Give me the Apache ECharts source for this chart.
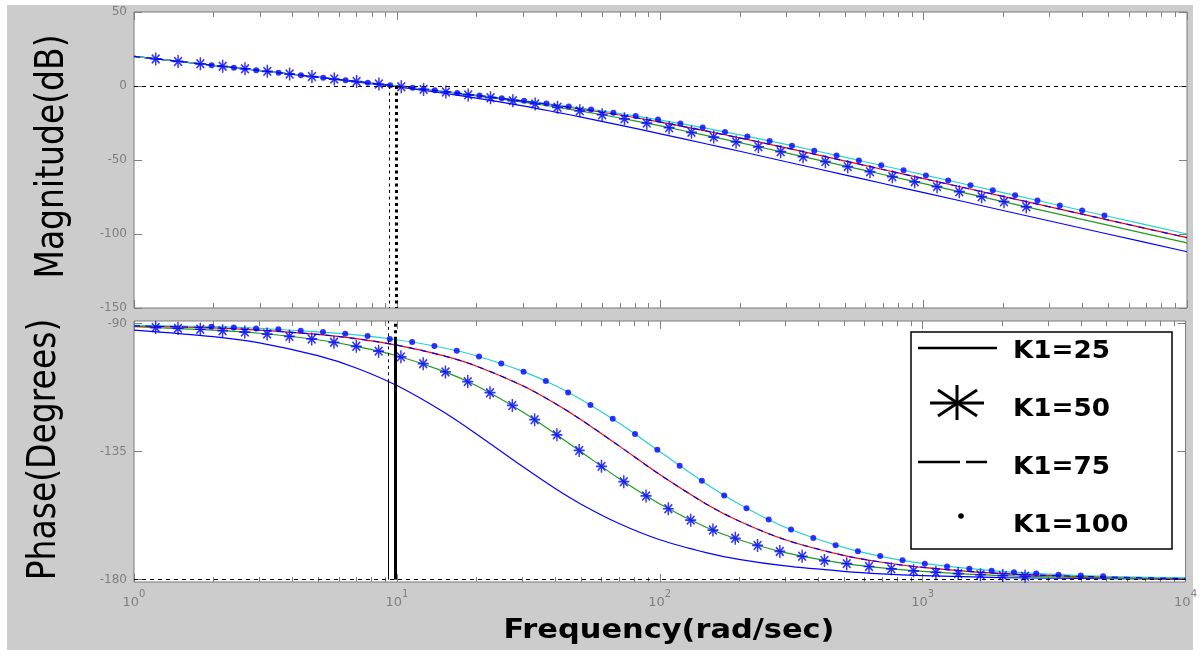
<!DOCTYPE html>
<html>
<head>
<meta charset="utf-8">
<title>Bode</title>
<script src="https://cdn.jsdelivr.net/npm/echarts@6/dist/echarts.min.js"></script>
<style>
html, body { margin: 0; padding: 0; background: #fff; }
#bode { width: 1200px; height: 650px; }
</style>
</head>
<body>
<div id="bode"></div>
<script>
// frequencies for the four curves (rad/sec)
var lineFreq = [1, 2, 3, 5, 7, 10, 15, 20, 30, 40, 50, 70, 100, 150, 200, 300, 500, 700, 1000, 2000, 5000, 10000];

// magnitude (dB)
var k25Mag = [20.0, 14.0, 10.4, 5.9, 2.8, -0.6, -4.9, -8.2, -13.4, -17.6, -21.0, -26.4, -32.3, -39.2, -44.1, -51.2, -60.0, -65.9, -72.0, -84.1, -100.0, -112.0];
var k50Mag = [20.0, 14.0, 10.4, 6.0, 3.0, -0.2, -3.9, -6.7, -10.9, -14.2, -17.0, -21.6, -27.0, -33.5, -38.3, -45.2, -54.0, -59.8, -66.0, -78.1, -94.0, -106.0];
var k75Mag = [20.0, 14.0, 10.5, 6.0, 3.1, -0.1, -3.7, -6.3, -10.2, -13.1, -15.6, -19.6, -24.4, -30.5, -35.1, -41.8, -50.6, -56.4, -62.6, -74.6, -90.5, -102.5];
var k100Mag = [20.0, 14.0, 10.5, 6.0, 3.1, 0.0, -3.6, -6.2, -9.9, -12.7, -15.0, -18.6, -23.0, -28.6, -33.0, -39.5, -48.1, -53.9, -60.0, -72.1, -88.0, -100.0];

// phase (deg)
var k25Phase = [-92.3, -94.6, -96.8, -101.3, -105.6, -111.8, -121.0, -128.7, -140.2, -148.0, -153.4, -160.3, -166.0, -170.5, -172.9, -175.2, -177.1, -178.0, -178.6, -179.3, -179.7, -179.9];
var k50Phase = [-91.1, -92.3, -93.4, -95.7, -98.0, -101.3, -106.7, -111.8, -121.0, -128.7, -135.0, -144.5, -153.4, -161.6, -166.0, -170.5, -174.3, -175.9, -177.1, -178.6, -179.4, -179.7];
var k75Phase = [-90.8, -91.5, -92.3, -93.8, -95.3, -97.6, -101.3, -104.9, -111.8, -118.1, -123.7, -133.0, -143.1, -153.4, -159.4, -166.0, -171.5, -173.9, -175.7, -177.9, -179.1, -179.6];
var k100Phase = [-90.6, -91.1, -91.7, -92.9, -94.0, -95.7, -98.5, -101.3, -106.7, -111.8, -116.6, -125.0, -135.0, -146.3, -153.4, -161.6, -168.7, -171.9, -174.3, -177.1, -178.9, -179.4];

// asterisk markers (K1=50)
var astFreq = [1.209, 1.470, 1.787, 2.172, 2.640, 3.209, 3.901, 4.742, 5.765, 7.008, 8.519, 10.36, 12.59, 15.30, 18.60, 22.61, 27.49, 33.41, 40.62, 49.37, 60.02, 72.96, 88.69, 107.8, 131.1, 159.3, 193.7, 235.5, 286.2, 348.0, 423.0, 514.2, 625.0, 759.8, 923.6, 1123, 1365, 1659, 2017, 2452];
var astMag = [18.3, 16.6, 15.0, 13.3, 11.6, 9.9, 8.1, 6.4, 4.7, 3.0, 1.3, -0.5, -2.3, -4.1, -6.0, -7.9, -9.9, -12.1, -14.4, -16.8, -19.4, -22.2, -25.1, -28.2, -31.3, -34.5, -37.8, -41.1, -44.4, -47.8, -51.1, -54.5, -57.9, -61.3, -64.7, -68.0, -71.4, -74.8, -78.2, -81.6];
var astPhase = [-91.4, -91.7, -92.0, -92.5, -93.0, -93.7, -94.5, -95.4, -96.6, -98.0, -99.7, -101.7, -104.1, -107.0, -110.4, -114.3, -118.8, -123.8, -129.1, -134.6, -140.2, -145.6, -150.6, -155.1, -159.1, -162.6, -165.5, -168.0, -170.1, -171.8, -173.3, -174.4, -175.4, -176.2, -176.9, -177.5, -177.9, -178.3, -178.6, -178.8];

// dot markers (K1=100)
var dotFreq = [1.972, 2.397, 2.914, 3.542, 4.306, 5.234, 6.362, 7.734, 9.401, 11.43, 13.89, 16.89, 20.53, 24.95, 30.33, 36.87, 44.82, 54.48, 66.23, 80.51, 97.87, 119.0, 144.6, 175.8, 213.7, 259.7, 315.7, 383.8, 466.5, 567.1, 689.4, 838.0, 1019, 1238, 1505, 1830, 2224, 2704, 3287, 3996, 4857];
var dotMag = [14.1, 12.4, 10.7, 9.0, 7.3, 5.6, 3.9, 2.2, 0.5, -1.2, -2.9, -4.7, -6.4, -8.2, -10.0, -11.9, -13.8, -15.9, -18.0, -20.3, -22.7, -25.3, -28.1, -31.0, -34.1, -37.2, -40.4, -43.7, -47.0, -50.3, -53.6, -57.0, -60.4, -63.8, -67.1, -70.5, -73.9, -77.3, -80.7, -84.1, -87.5];
var dotPhase = [-91.1, -91.4, -91.7, -92.0, -92.5, -93.0, -93.6, -94.4, -95.4, -96.5, -97.9, -99.6, -101.6, -104.0, -106.9, -110.2, -114.2, -118.6, -123.5, -128.8, -134.4, -140.0, -145.3, -150.4, -154.9, -158.9, -162.4, -165.4, -167.9, -170.0, -171.7, -173.2, -174.4, -175.4, -176.2, -176.9, -177.4, -177.9, -178.3, -178.6, -178.8];

// crossover lines
var marginFreq = [9.3, 9.9];
var marginPhase = [-110.5, -95.7];

// axis ticks / labels
var magTicks = [-150, -100, -50, 0, 50];
var phaseTicks = [-180, -135, -90];
var phaseMin = -180.85, phaseMax = -89.1;
var minorFreq = [2, 3, 4, 5, 6, 7, 8, 9, 20, 30, 40, 50, 60, 70, 80, 90, 200, 300, 400, 500, 600, 700, 800, 900, 2000, 3000, 4000, 5000, 6000, 7000, 8000, 9000];

var legendNames = ['K1=25', 'K1=50', 'K1=75', 'K1=100'];

var tickGray = '#7f7f7f';
var FONT = '"DejaVu Sans", sans-serif';
var asteriskPath = 'path://M5,0L5,12M0,6L10,6M1.5,2L8.5,10M1.5,10L8.5,2';

function pairs(xs, ys) {
    return xs.map(function (x, i) { return [x, ys[i]]; });
}

var bode = echarts.init(document.getElementById('bode'));

// mirrored axes carry only ticks; the labelled ones also carry text
function xAx(grid, pos, labels) {
    return {
        type: 'log', logBase: 10, gridIndex: grid, position: pos, min: 1, max: 10000,
        axisLine: { show: false, onZero: false },
        axisTick: { inside: true, length: 8, lineStyle: { color: tickGray } },
        splitLine: { show: false },
        axisPointer: { show: false },
        axisLabel: {
            show: labels, margin: 7, color: tickGray,
            formatter: function (v) {
                var e = Math.round(Math.log(v) / Math.LN10);
                return '{b|10}{s|' + e + '}';
            },
            rich: {
                b: { fontSize: 13, fontFamily: FONT, color: tickGray, lineHeight: 20, verticalAlign: 'bottom' },
                s: { fontSize: 10, fontFamily: FONT, color: tickGray, lineHeight: 10, verticalAlign: 'top' }
            }
        }
    };
}

function yAx(grid, pos, labels, min, max, ticks) {
    return {
        type: 'value', gridIndex: grid, position: pos, min: min, max: max,
        axisLine: { show: false, onZero: false },
        splitLine: { show: false },
        axisPointer: { show: false },
        axisTick: { inside: true, length: 8, customValues: ticks, lineStyle: { color: tickGray } },
        axisLabel: { show: labels, customValues: ticks, margin: 7, color: tickGray, fontSize: 12, fontFamily: FONT }
    };
}

function lineSeries(name, xi, yi, data, color, dash, z) {
    return {
        name: name, type: 'line', xAxisIndex: xi, yAxisIndex: yi, data: data,
        showSymbol: false, symbol: 'none', smooth: 0.3, silent: true, z: z || 2,
        lineStyle: { color: color, width: 1.2, type: dash || 'solid' }
    };
}

function minorTicks(xi, yi, yv) {
    return {
        type: 'custom', xAxisIndex: xi, yAxisIndex: yi, silent: true, z: 1,
        data: minorFreq.map(function (f) { return [f, yv]; }),
        renderItem: function (params, api) {
            var cs = params.coordSys;
            var x = Math.round(api.coord([api.value(0), api.value(1)])[0]) + 0.5;
            var st = { stroke: tickGray, lineWidth: 1 };
            return {
                type: 'group', children: [
                    { type: 'line', shape: { x1: x, y1: cs.y, x2: x, y2: cs.y + 5 }, style: st },
                    { type: 'line', shape: { x1: x, y1: cs.y + cs.height, x2: x, y2: cs.y + cs.height - 5 }, style: st }
                ]
            };
        }
    };
}

var dashBlack = { color: '#000', width: 1, type: [4, 4] };
var dotThin = { color: '#000', width: 1, type: [3, 3.5] };
var dotThick = { color: '#000', width: 3, type: [3, 3.5] };
var solidThin = { color: '#000', width: 1, type: 'solid' };
var solidThick = { color: '#000', width: 3, type: 'solid' };

var magSeries = [
    Object.assign(lineSeries(legendNames[0], 0, 0, pairs(lineFreq, k25Mag), '#0000ff'), {
        markLine: {
            symbol: 'none', silent: true, label: { show: false },
            data: [
                { yAxis: 0, lineStyle: dashBlack },
                [{ coord: [marginFreq[0], 0], lineStyle: dotThin }, { coord: [marginFreq[0], magTicks[0]] }],
                [{ coord: [marginFreq[1], 0], lineStyle: dotThick }, { coord: [marginFreq[1], magTicks[0]] }]
            ]
        }
    }),
    lineSeries(legendNames[1], 0, 0, pairs(lineFreq, k50Mag), '#1f9a1f'),
    lineSeries(legendNames[2], 0, 0, pairs(lineFreq, k75Mag), '#ff0000'),
    lineSeries(legendNames[2] + ' dash', 0, 0, pairs(lineFreq, k75Mag), '#0000ff', [6, 6], 3),
    lineSeries(legendNames[3], 0, 0, pairs(lineFreq, k100Mag), '#22d3d3'),
    {
        name: legendNames[1] + ' marker', type: 'scatter', xAxisIndex: 0, yAxisIndex: 0, z: 4, silent: true,
        data: pairs(astFreq, astMag), symbol: asteriskPath, symbolSize: [11, 13],
        itemStyle: { color: 'rgba(0,0,0,0)', borderColor: '#0000ff', borderWidth: 1.6 }
    },
    {
        name: legendNames[3] + ' marker', type: 'scatter', xAxisIndex: 0, yAxisIndex: 0, z: 4, silent: true,
        data: pairs(dotFreq, dotMag), symbol: 'circle', symbolSize: 6,
        itemStyle: { color: '#0000ff' }
    },
    minorTicks(0, 0, magTicks[0])
];

var phaseSeries = [
    Object.assign(lineSeries(legendNames[0], 2, 2, pairs(lineFreq, k25Phase), '#0000ff'), {
        markLine: {
            symbol: 'none', silent: true, label: { show: false },
            data: [
                { yAxis: phaseTicks[0], lineStyle: dashBlack },
                [{ coord: [marginFreq[0], phaseTicks[0]], lineStyle: solidThin }, { coord: [marginFreq[0], marginPhase[0]] }],
                [{ coord: [marginFreq[0], marginPhase[0]], lineStyle: dotThin }, { coord: [marginFreq[0], phaseMax] }],
                [{ coord: [marginFreq[1], phaseTicks[0]], lineStyle: solidThick }, { coord: [marginFreq[1], marginPhase[1]] }],
                [{ coord: [marginFreq[1], marginPhase[1]], lineStyle: dotThick }, { coord: [marginFreq[1], phaseMax] }]
            ]
        }
    }),
    lineSeries(legendNames[1], 2, 2, pairs(lineFreq, k50Phase), '#1f9a1f'),
    lineSeries(legendNames[2], 2, 2, pairs(lineFreq, k75Phase), '#ff0000'),
    lineSeries(legendNames[2] + ' dash', 2, 2, pairs(lineFreq, k75Phase), '#0000ff', [6, 6], 3),
    lineSeries(legendNames[3], 2, 2, pairs(lineFreq, k100Phase), '#22d3d3'),
    {
        name: legendNames[1] + ' marker', type: 'scatter', xAxisIndex: 2, yAxisIndex: 2, z: 4, silent: true,
        data: pairs(astFreq, astPhase), symbol: asteriskPath, symbolSize: [11, 13],
        itemStyle: { color: 'rgba(0,0,0,0)', borderColor: '#0000ff', borderWidth: 1.6 }
    },
    {
        name: legendNames[3] + ' marker', type: 'scatter', xAxisIndex: 2, yAxisIndex: 2, z: 4, silent: true,
        data: pairs(dotFreq, dotPhase), symbol: 'circle', symbolSize: 6,
        itemStyle: { color: '#0000ff' }
    },
    minorTicks(2, 2, phaseTicks[0])
];

// legend drawn as a boxed key, black like the original
var lx = 911, ly = 332;
var legendGraphic = [
    { type: 'rect', shape: { x: lx, y: ly, width: 261, height: 217 }, style: { fill: '#fff', stroke: '#000', lineWidth: 1.5 }, z: 10 },
    { type: 'line', shape: { x1: lx + 7, y1: ly + 16, x2: lx + 86, y2: ly + 16 }, style: { stroke: '#000', lineWidth: 2.5 }, z: 11 },
    { type: 'line', shape: { x1: lx + 46, y1: ly + 53, x2: lx + 46, y2: ly + 88 }, style: { stroke: '#000', lineWidth: 3 }, z: 11 },
    { type: 'line', shape: { x1: lx + 19, y1: ly + 71, x2: lx + 73, y2: ly + 71 }, style: { stroke: '#000', lineWidth: 3 }, z: 11 },
    { type: 'line', shape: { x1: lx + 27, y1: ly + 58, x2: lx + 66, y2: ly + 84 }, style: { stroke: '#000', lineWidth: 3 }, z: 11 },
    { type: 'line', shape: { x1: lx + 27, y1: ly + 84, x2: lx + 66, y2: ly + 58 }, style: { stroke: '#000', lineWidth: 3 }, z: 11 },
    { type: 'line', shape: { x1: lx + 7, y1: ly + 130, x2: lx + 49, y2: ly + 130 }, style: { stroke: '#000', lineWidth: 2.5 }, z: 11 },
    { type: 'line', shape: { x1: lx + 55, y1: ly + 130, x2: lx + 76, y2: ly + 130 }, style: { stroke: '#000', lineWidth: 2.5 }, z: 11 },
    { type: 'circle', shape: { cx: lx + 50, cy: ly + 184, r: 2.8 }, style: { fill: '#000' }, z: 11 }
];
var legendY = [351, 409, 467, 525];
legendNames.forEach(function (n, i) {
    legendGraphic.push({
        type: 'text', x: 1013, y: legendY[i], scaleX: 1.05, z: 11,
        style: { text: n, font: 'bold 25px ' + FONT, fill: '#000', textAlign: 'left', align: 'left', textVerticalAlign: 'middle', verticalAlign: 'middle' }
    });
});

var option = {
    backgroundColor: '#fff',
    animation: false,
    grid: [
        { left: 134, top: 12, width: 1053, height: 296, show: true, backgroundColor: '#fff', borderColor: '#7a7a7a', borderWidth: 1 },
        { left: 134, top: 321, width: 1053, height: 261, show: true, backgroundColor: '#fff', borderColor: '#7a7a7a', borderWidth: 1 }
    ],
    xAxis: [
        xAx(0, 'bottom', false),
        xAx(0, 'top', false),
        xAx(1, 'bottom', true),
        xAx(1, 'top', false)
    ],
    yAxis: [
        yAx(0, 'left', true, -150, 50, magTicks),
        yAx(0, 'right', false, -150, 50, magTicks),
        yAx(1, 'left', true, phaseMin, phaseMax, phaseTicks),
        yAx(1, 'right', false, phaseMin, phaseMax, phaseTicks)
    ],
    graphic: [
        { type: 'rect', shape: { x: 7, y: 5, width: 1186, height: 645 }, style: { fill: '#cccccc' }, z: -100, silent: true },
        {
            type: 'text', x: 52.5, y: 156.5, rotation: Math.PI / 2, scaleY: 1.19,
            style: { text: 'Magnitude(dB)', font: '33px ' + FONT, fill: '#000', textAlign: 'center', align: 'center', textVerticalAlign: 'middle', verticalAlign: 'middle' }
        },
        {
            type: 'text', x: 45, y: 449.5, rotation: Math.PI / 2, scaleY: 1.19,
            style: { text: 'Phase(Degrees)', font: '33px ' + FONT, fill: '#000', textAlign: 'center', align: 'center', textVerticalAlign: 'middle', verticalAlign: 'middle' }
        },
        {
            type: 'text', x: 669, y: 631, scaleX: 1.17,
            style: { text: 'Frequency(rad/sec)', font: 'bold 26px ' + FONT, fill: '#000', textAlign: 'center', align: 'center', textVerticalAlign: 'middle', verticalAlign: 'middle' }
        }
    ].concat(legendGraphic),
    series: magSeries.concat(phaseSeries)
};

bode.setOption(option);
</script>
</body>
</html>
